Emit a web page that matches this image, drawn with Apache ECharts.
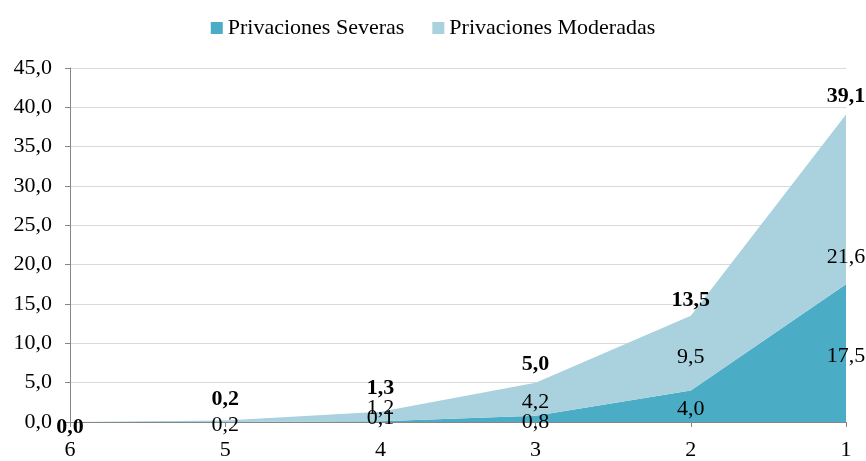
<!DOCTYPE html>
<html>
<head>
<meta charset="utf-8">
<script src="https://cdn.jsdelivr.net/npm/echarts@6/dist/echarts.min.js"></script>
<style>
  html, body { margin: 0; padding: 0; background: #fff; }
  #chart { width: 866px; height: 461px; }
</style>
</head>
<body>
<div id="chart"></div>
<script>
const categories = ['6', '5', '4', '3', '2', '1']
const severas = [0.0, 0.0, 0.1, 0.8, 4.0, 17.5]
const moderadas = [0.0, 0.2, 1.2, 4.2, 9.5, 21.6]
const totales = severas.map((v, i) => +(v + moderadas[i]).toFixed(1))

// label offsets (px) so the numbers sit where the original puts them; null = label hidden (overlapped)
const sevOffset = [null, null, -3, 7, 19, 72]
const modOffset = [null, 5, -4, 20, 41, 143]
const totOffset = [5, -21, -23, -18, -15, -18]

const fmt = (v) => Number(v).toFixed(1).replace('.', ',')
const font = 'Liberation Serif'
const fs = 22

const chart = echarts.init(document.getElementById('chart'))

function labelled(values, offsets) {
  return values.map((v, i) => ({
    value: v,
    label: offsets[i] === null ? { show: false } : { offset: [0, offsets[i]] }
  }))
}

function areaSeries(name, color, values, offsets) {
  return {
    name: name,
    type: 'line',
    stack: 'total',
    symbol: 'circle',
    symbolSize: 0,
    showSymbol: true,
    lineStyle: { width: 0 },
    itemStyle: { color: color },
    areaStyle: { color: color, opacity: 1 },
    label: {
      show: true,
      position: 'inside',
      color: '#000',
      fontFamily: font,
      fontSize: fs,
      formatter: (p) => fmt(p.value)
    },
    data: labelled(values, offsets)
  }
}

const option = {
  animation: false,
  textStyle: { fontFamily: font },
  legend: {
    top: 12,
    left: 'center',
    itemWidth: 12,
    itemHeight: 12,
    itemGap: 28,
    textStyle: { fontFamily: font, fontSize: fs, color: '#000' },
    data: [
      { name: 'Privaciones Severas', icon: 'rect' },
      { name: 'Privaciones Moderadas', icon: 'rect' }
    ]
  },
  grid: { left: 70, right: 20, top: 68, bottom: 37 },
  xAxis: {
    type: 'category',
    boundaryGap: false,
    data: categories,
    axisLine: { lineStyle: { color: '#868686', width: 1 } },
    axisTick: { show: true, length: 5, lineStyle: { color: '#868686' } },
    axisLabel: { color: '#000', fontFamily: font, fontSize: fs, margin: 17 },
    splitLine: { show: false }
  },
  yAxis: {
    type: 'value',
    min: 0,
    max: 45,
    interval: 5,
    axisLine: { show: true, lineStyle: { color: '#868686', width: 1 } },
    axisTick: { show: true, length: 5, lineStyle: { color: '#868686' } },
    axisLabel: { color: '#000', fontFamily: font, fontSize: fs, margin: 18, formatter: fmt },
    splitLine: { lineStyle: { color: '#d9d9d9', width: 1 } }
  },
  series: [
    areaSeries('Privaciones Severas', '#4bacc6', severas, sevOffset),
    areaSeries('Privaciones Moderadas', '#a9d1de', moderadas, modOffset),
    {
      name: 'Total',
      type: 'line',
      symbol: 'circle',
      symbolSize: 0,
      showSymbol: true,
      silent: true,
      lineStyle: { width: 0, opacity: 0 },
      label: {
        show: true,
        position: 'inside',
        color: '#000',
        fontFamily: font,
        fontSize: fs,
        fontWeight: 'bold',
        formatter: (p) => fmt(p.value)
      },
      data: labelled(totales, totOffset)
    }
  ]
}
chart.setOption(option)
</script>
</body>
</html>
